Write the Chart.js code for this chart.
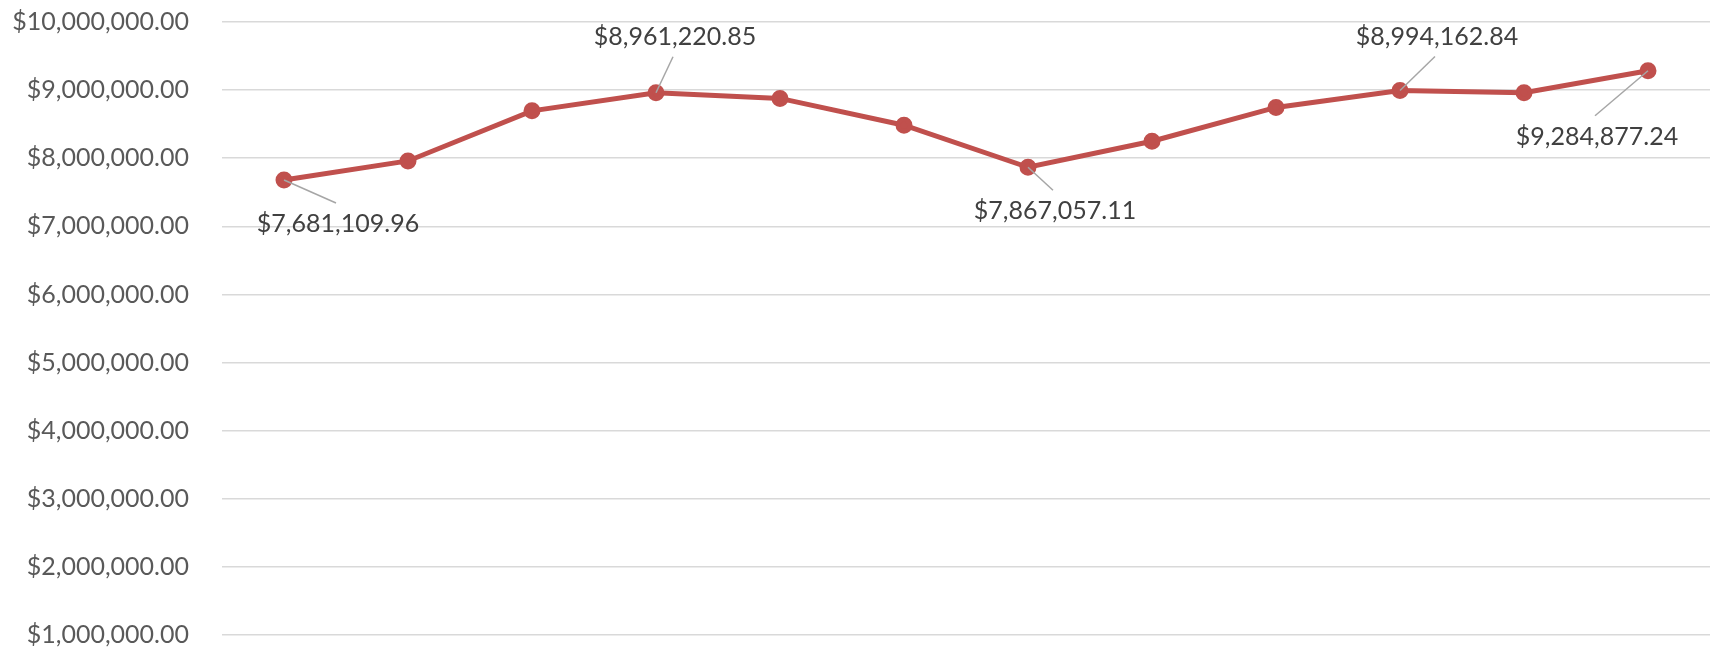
<!DOCTYPE html>
<html>
<head>
<meta charset="utf-8">
<title>Monthly Totals</title>
<script src="https://cdn.jsdelivr.net/npm/chart.js@4/dist/chart.umd.min.js"></script>
<style>
    body { margin: 0; background: #ffffff; }
    #chartBox { width: 1710px; height: 656px; position: relative; }
</style>
</head>
<body>
<div id="chartBox">
    <canvas id="totalsChart"></canvas>
</div>
<script>
// Chart data
const months = ['Jan', 'Feb', 'Mar', 'Apr', 'May', 'Jun', 'Jul', 'Aug', 'Sep', 'Oct', 'Nov', 'Dec'];
const totals = [7681109.96, 7960000, 8696000, 8961220.85, 8878000, 8485000, 7867057.11, 8250000, 8746000, 8994162.84, 8960000, 9284877.24];
const yTicks = [1000000, 2000000, 3000000, 4000000, 5000000, 6000000, 7000000, 8000000, 9000000, 10000000];

// Which points get a value label, and where the label sits relative to the point
const labelledPoints = [
    { index: 0, dx: 54, dy: 44 },
    { index: 3, dx: 19, dy: -56 },
    { index: 6, dx: 27, dy: 44 },
    { index: 9, dx: 37, dy: -54 },
    { index: 11, dx: -51, dy: 66 }
];

const FONT = 'Lato, Calibri, "Liberation Sans", sans-serif';

// Format as currency with two decimals
function formatMoney(num) {
    return '$' + num.toLocaleString('en-US', { minimumFractionDigits: 2, maximumFractionDigits: 2 });
}

// Value labels with leader lines
const valueLabels = {
    id: 'valueLabels',
    afterDatasetsDraw(chart) {
        const ctx = chart.ctx;
        const meta = chart.getDatasetMeta(0);
        ctx.save();
        labelledPoints.forEach(spec => {
            const pt = meta.data[spec.index];
            const cx = pt.x + spec.dx;
            const cy = pt.y + spec.dy;
            const endY = spec.dy > 0 ? cy - 21 : cy + 20;

            ctx.strokeStyle = '#a6a6a6';
            ctx.lineWidth = 1.5;
            ctx.beginPath();
            ctx.moveTo(pt.x, pt.y);
            ctx.lineTo(cx - 2, endY);
            ctx.stroke();

            ctx.fillStyle = '#404040';
            ctx.font = '25px ' + FONT;
            ctx.textAlign = 'center';
            ctx.textBaseline = 'middle';
            ctx.fillText(formatMoney(totals[spec.index]), cx, cy);
        });
        ctx.restore();
    }
};

const chart = new Chart(document.getElementById('totalsChart'), {
    type: 'line',
    data: {
        labels: months,
        datasets: [{
            data: totals,
            borderColor: '#c0504d',
            backgroundColor: '#c0504d',
            borderWidth: 5,
            pointRadius: 6,
            pointHoverRadius: 6,
            pointBackgroundColor: '#c0504d',
            pointBorderColor: '#c0504d',
            tension: 0,
            fill: false
        }]
    },
    options: {
        responsive: true,
        maintainAspectRatio: false,
        animation: false,
        layout: {
            autoPadding: false,
            padding: { top: 22, bottom: 21, left: 0, right: 0 }
        },
        scales: {
            x: {
                display: false,
                offset: true
            },
            y: {
                min: 1000000,
                max: 10000000,
                afterBuildTicks(scale) {
                    scale.ticks = yTicks.map(v => ({ value: v }));
                },
                afterFit(scale) {
                    // fixed label column; tick padding should not push the plot down
                    scale.width = 222;
                    scale.paddingTop = 0;
                    scale.paddingBottom = 0;
                },
                border: { display: false },
                grid: {
                    color: '#d9d9d9',
                    lineWidth: 1.5,
                    drawTicks: false
                },
                ticks: {
                    padding: 33,
                    color: '#595959',
                    font: { family: FONT, size: 25 },
                    callback: value => formatMoney(value)
                }
            }
        },
        plugins: {
            legend: { display: false },
            tooltip: { enabled: false }
        }
    },
    plugins: [valueLabels]
});
</script>
</body>
</html>
